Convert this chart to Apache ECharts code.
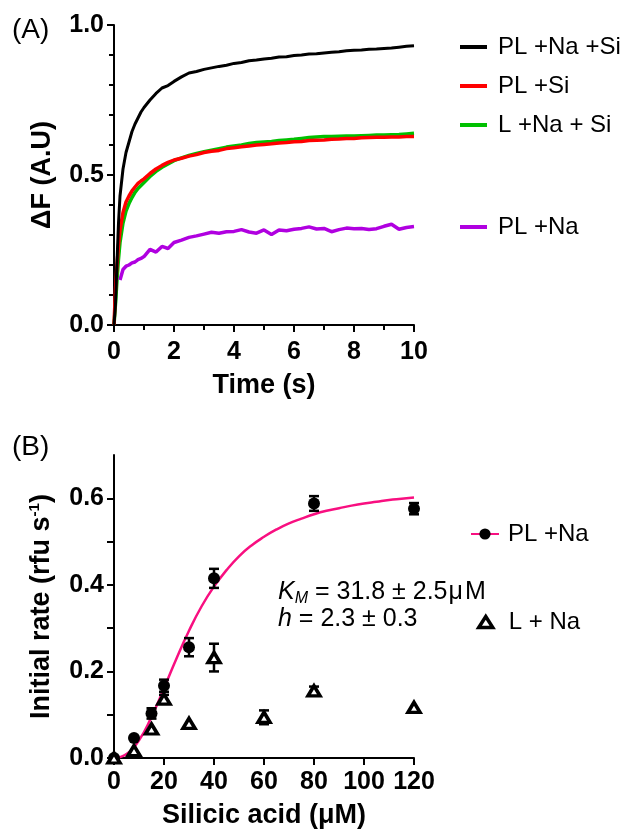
<!DOCTYPE html>
<html><head><meta charset="utf-8">
<script src="https://cdn.jsdelivr.net/npm/echarts@6/dist/echarts.min.js"></script>
<style>html,body{margin:0;padding:0;background:#fff}#c{width:624px;height:831px}</style>
</head><body><div id="c"></div>
<script>
// ---------- Panel A data ----------
const timeA = [0, 0.05, 0.1, 0.15, 0.2, 0.3, 0.4, 0.5, 0.6, 0.7, 0.8, 0.9, 1.0, 1.2, 1.4, 1.6, 1.8, 2.0,
  2.25, 2.5, 2.75, 3.0, 3.25, 3.5, 3.75, 4.0, 4.25, 4.5, 4.75, 5.0, 5.25, 5.5, 5.75, 6.0,
  6.25, 6.5, 6.75, 7.0, 7.25, 7.5, 7.75, 8.0, 8.25, 8.5, 8.75, 9.0, 9.25, 9.5, 9.75, 10.0];
const plNaSi = [0, 0.07, 0.21, 0.34, 0.43, 0.52, 0.575, 0.61, 0.645, 0.67, 0.69, 0.71, 0.725, 0.75, 0.772, 0.79, 0.798, 0.812,
  0.827, 0.84, 0.845, 0.852, 0.857, 0.862, 0.866, 0.872, 0.875, 0.881, 0.883, 0.887, 0.889, 0.893, 0.894, 0.898,
  0.900, 0.903, 0.904, 0.907, 0.909, 0.911, 0.914, 0.916, 0.917, 0.919, 0.920, 0.922, 0.923, 0.926, 0.929, 0.931];
const plSi = [0, 0.12, 0.2, 0.265, 0.315, 0.375, 0.41, 0.43, 0.447, 0.46, 0.472, 0.48, 0.487, 0.505, 0.52, 0.532, 0.542, 0.55,
  0.556, 0.563, 0.568, 0.575, 0.579, 0.582, 0.588, 0.591, 0.594, 0.597, 0.6, 0.602, 0.604, 0.607, 0.608, 0.611,
  0.612, 0.615, 0.616, 0.617, 0.619, 0.62, 0.622, 0.622, 0.624, 0.625, 0.626, 0.626, 0.627, 0.627, 0.628, 0.628];
const lNaSi = [0, 0.07, 0.15, 0.22, 0.275, 0.34, 0.38, 0.405, 0.425, 0.442, 0.455, 0.465, 0.475, 0.495, 0.512, 0.526, 0.537, 0.548,
  0.557, 0.565, 0.572, 0.578, 0.583, 0.588, 0.593, 0.597, 0.6, 0.605, 0.608, 0.61, 0.612, 0.615, 0.617, 0.619,
  0.622, 0.625, 0.627, 0.628, 0.628, 0.629, 0.63, 0.63, 0.631, 0.632, 0.633, 0.633, 0.634, 0.635, 0.637, 0.639];
const plNa = [null, null, null, null, 0.15, 0.185, 0.196, 0.2, 0.207, 0.21, 0.218, 0.222, 0.228, 0.252, 0.243, 0.262, 0.255, 0.275,
  0.283, 0.292, 0.297, 0.303, 0.309, 0.306, 0.311, 0.312, 0.318, 0.31, 0.306, 0.317, 0.302, 0.317, 0.314, 0.319,
  0.322, 0.327, 0.32, 0.322, 0.311, 0.318, 0.323, 0.321, 0.322, 0.318, 0.321, 0.329, 0.336, 0.319, 0.325, 0.328];

// ---------- Panel B data ----------
const concPL = [0, 8, 15, 20, 30, 40, 80, 120];
const ratePL = [0, 0.046, 0.103, 0.167, 0.256, 0.415, 0.588, 0.576];
const errPL  = [0, 0, 0.012, 0.014, 0.021, 0.022, 0.017, 0.013];
const concL = [0, 8, 15, 20, 30, 40, 60, 80, 120];
const rateL = [0, 0.017, 0.067, 0.136, 0.08, 0.232, 0.094, 0.155, 0.117];
const errL  = [0, 0, 0, 0.01, 0, 0.032, 0.016, 0.01, 0];
const fitConc = [0, 5, 10, 15, 20, 25, 30, 35, 40, 45, 50, 55, 60, 65, 70, 75, 80, 85, 90, 95, 100, 105, 110, 115, 120];
const fitRate = [0, 0.009, 0.041, 0.095, 0.161, 0.230, 0.294, 0.350, 0.396, 0.434, 0.466, 0.491, 0.511, 0.528, 0.542, 0.553,
  0.563, 0.571, 0.577, 0.583, 0.588, 0.592, 0.596, 0.599, 0.602];

const yTicksB = [0, 0.1, 0.2, 0.3, 0.4, 0.5, 0.6];
const yLabelsB = [0, 0.2, 0.4, 0.6];

const FF = "'Liberation Sans', Arial, sans-serif";
const pairs = (xs, ys) => xs.map((x, i) => [x, ys[i]]).filter(p => p[1] !== null);
const errData = (xs, ys, es) => xs.map((x, i) => [x, ys[i] - es[i], ys[i] + es[i]]).filter((d, i) => es[i] > 0);

function errRender(params, api) {
  const x = api.value(0);
  const lo = api.coord([x, api.value(1)]);
  const hi = api.coord([x, api.value(2)]);
  const w = 5;
  const st = { stroke: '#000', lineWidth: 2.5 };
  return { type: 'group', children: [
    { type: 'line', shape: { x1: lo[0], y1: lo[1], x2: hi[0], y2: hi[1] }, style: st },
    { type: 'line', shape: { x1: lo[0] - w, y1: lo[1], x2: lo[0] + w, y2: lo[1] }, style: st },
    { type: 'line', shape: { x1: hi[0] - w, y1: hi[1], x2: hi[0] + w, y2: hi[1] }, style: st }
  ]};
}

const axisCommon = {
  axisLine: { lineStyle: { color: '#000', width: 2 } },
  axisTick: { length: 7, lineStyle: { color: '#000', width: 2 } },
  splitLine: { show: false },
  nameLocation: 'middle',
  nameTextStyle: { fontSize: 27, fontWeight: 'bold', color: '#000', fontFamily: FF }
};
const labelStyle = { fontSize: 25, fontWeight: 'bold', color: '#000', fontFamily: FF };
const legendText = { fontSize: 24, color: '#000', fontFamily: FF };

const chart = echarts.init(document.getElementById('c'), null, { renderer: 'canvas' });
chart.setOption({
  animation: false,
  backgroundColor: '#fff',
  grid: [
    { left: 114, top: 25, width: 300, height: 300 },
    { left: 114, top: 455, width: 300, height: 303 }
  ],
  xAxis: [
    Object.assign({}, axisCommon, {
      gridIndex: 0, type: 'value', min: 0, max: 10, interval: 2,
      minorTick: { show: true, splitNumber: 2, length: 5, lineStyle: { color: '#000', width: 2 } },
      axisLabel: Object.assign({ margin: 15 }, labelStyle),
      name: 'Time (s)', nameGap: 47
    }),
    Object.assign({}, axisCommon, {
      gridIndex: 1, type: 'value', min: 0, max: 120, interval: 20,
      axisLabel: Object.assign({ margin: 12 }, labelStyle),
      name: 'Silicic acid (μM)', nameGap: 44
    })
  ],
  yAxis: [
    Object.assign({}, axisCommon, {
      gridIndex: 0, type: 'value', min: 0, max: 1, interval: 0.5,
      minorTick: { show: true, splitNumber: 5, length: 5, lineStyle: { color: '#000', width: 2 } },
      axisLabel: Object.assign({ margin: 10, formatter: v => v.toFixed(1) }, labelStyle),
      name: 'ΔF (A.U)', nameGap: 58
    }),
    Object.assign({}, axisCommon, {
      gridIndex: 1, type: 'value', min: 0, max: 0.7, interval: 0.1,
      axisTick: { length: 7, lineStyle: { color: '#000', width: 2 }, customValues: yTicksB },
      axisLabel: Object.assign({ margin: 10, customValues: yLabelsB, formatter: v => v.toFixed(1) }, labelStyle),
      name: '{a|Initial rate (rfu s}{s|-1}{a|)}', nameGap: 57,
      nameTextStyle: {
        fontSize: 27, fontWeight: 'bold', color: '#000', fontFamily: FF,
        rich: {
          a: { fontSize: 27, fontWeight: 'bold', color: '#000', fontFamily: FF, lineHeight: 30 },
          s: { fontSize: 15, fontWeight: 'bold', color: '#000', fontFamily: FF, lineHeight: 15, verticalAlign: 'top' }
        }
      }
    })
  ],
  legend: [
    { left: 455, top: 30, orient: 'vertical', icon: 'rect', itemWidth: 27, itemHeight: 4, itemGap: 15, selectedMode: false,
      data: ['PL +Na +Si', 'PL +Si', 'L +Na + Si'],
      textStyle: Object.assign({ padding: [0, 0, 0, 6] }, legendText) },
    { left: 455, top: 210, orient: 'vertical', icon: 'rect', itemWidth: 27, itemHeight: 4, selectedMode: false,
      data: ['PL +Na'],
      textStyle: Object.assign({ padding: [0, 0, 0, 6] }, legendText) },
    { left: 465, top: 517, orient: 'vertical', itemWidth: 28, itemHeight: 14, selectedMode: false,
      data: ['PL +Na fit'],
      formatter: n => n.replace(' fit', ''),
      textStyle: Object.assign({ padding: [0, 0, 0, 4] }, legendText) },
    { left: 472, top: 605, orient: 'vertical', itemWidth: 14, itemHeight: 11, selectedMode: false,
      data: ['L + Na'],
      itemStyle: { color: '#fff', borderColor: '#000', borderWidth: 3.5 },
      textStyle: Object.assign({ padding: [0, 0, 0, 11] }, legendText) }
  ],
  graphic: [
    { type: 'text', left: 12, top: 16, style: { text: '(A)', fontSize: 28, fontFamily: FF, fill: '#000' } },
    { type: 'text', left: 12, top: 433, style: { text: '(B)', fontSize: 28, fontFamily: FF, fill: '#000' } },
    { type: 'text', left: 278, top: 580, style: {
        text: '{i|K}{sub|M}{n| = 31.8 ± 2.5}{mu|μ}{n|M}',
        rich: {
          i: { fontSize: 25, fontStyle: 'italic', fontFamily: FF, fill: '#000', lineHeight: 28 },
          sub: { fontSize: 16, fontStyle: 'italic', fontFamily: FF, fill: '#000', lineHeight: 14, verticalAlign: 'bottom' },
          mu: { fontSize: 25, fontFamily: FF, fill: '#000', lineHeight: 28, padding: [0, 2, 0, 1] },
          n: { fontSize: 25, fontFamily: FF, fill: '#000', lineHeight: 28 }
        } } },
    { type: 'text', left: 278, top: 607, style: {
        text: '{i|h}{n| = 2.3 ± 0.3}',
        rich: {
          i: { fontSize: 25, fontStyle: 'italic', fontFamily: FF, fill: '#000', lineHeight: 28 },
          n: { fontSize: 25, fontFamily: FF, fill: '#000', lineHeight: 28 }
        } } }
  ],
  series: [
    { name: 'PL +Na +Si', type: 'line', xAxisIndex: 0, yAxisIndex: 0, symbol: 'none', data: pairs(timeA, plNaSi),
      color: '#000', lineStyle: { color: '#000', width: 3 }, z: 5 },
    { name: 'L +Na + Si', type: 'line', xAxisIndex: 0, yAxisIndex: 0, symbol: 'none', data: pairs(timeA, lNaSi),
      color: '#00c000', lineStyle: { color: '#00c000', width: 3.5 }, z: 3 },
    { name: 'PL +Si', type: 'line', xAxisIndex: 0, yAxisIndex: 0, symbol: 'none', data: pairs(timeA, plSi),
      color: '#ff0000', lineStyle: { color: '#ff0000', width: 3.5 }, z: 4 },
    { name: 'PL +Na', type: 'line', xAxisIndex: 0, yAxisIndex: 0, symbol: 'none', data: pairs(timeA, plNa),
      color: '#b000e0', lineStyle: { color: '#b000e0', width: 3.5 }, z: 4 },

    { name: 'PL +Na fit', type: 'line', xAxisIndex: 1, yAxisIndex: 1, smooth: true, symbol: 'circle', showSymbol: false,
      data: pairs(fitConc, fitRate), itemStyle: { color: '#000' }, lineStyle: { color: '#f80f80', width: 2.5 }, z: 2 },
    { name: 'PL +Na err', type: 'custom', xAxisIndex: 1, yAxisIndex: 1, renderItem: errRender,
      data: errData(concPL, ratePL, errPL), z: 3 },
    { name: 'L + Na err', type: 'custom', xAxisIndex: 1, yAxisIndex: 1, renderItem: errRender,
      data: errData(concL, rateL, errL), z: 3 },
    { name: 'PL +Na data', type: 'scatter', xAxisIndex: 1, yAxisIndex: 1, symbol: 'circle', symbolSize: 12,
      data: pairs(concPL, ratePL), itemStyle: { color: '#000', opacity: 1 }, z: 4 },
    { name: 'L + Na', type: 'scatter', xAxisIndex: 1, yAxisIndex: 1, symbol: 'triangle', symbolSize: [12, 10],
      data: pairs(concL, rateL), itemStyle: { color: '#fff', borderColor: '#000', borderWidth: 3.5, opacity: 1 }, z: 5 }
  ]
});
</script>
</body></html>
